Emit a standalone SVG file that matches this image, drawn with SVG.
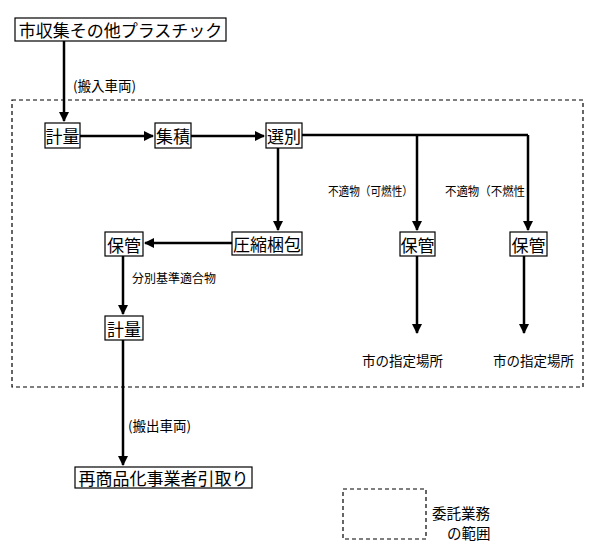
<svg xmlns="http://www.w3.org/2000/svg" width="600" height="550" viewBox="0 0 600 550">
<defs>
<marker id="ah" markerWidth="10" markerHeight="10" refX="9" refY="5" orient="auto" markerUnits="userSpaceOnUse">
<path d="M0,0 L10,5 L0,10 Z" fill="#000"/>
</marker>
<style>
text{font-family:"Noto Sans CJK JP","Noto Sans",sans-serif;fill:#000}
.box{fill:#fff;stroke:#000;stroke-width:1.2}
.lbl{font-size:17px;text-anchor:middle;dominant-baseline:central}
.sm{font-size:12px;dominant-baseline:central}
.md{font-size:13.5px;dominant-baseline:central}
.lg{font-size:14.5px;dominant-baseline:central}
.edge{stroke:#000;stroke-width:2.5;fill:none}
.arr{marker-end:url(#ah)}
.dash{fill:none;stroke:#000;stroke-width:1.2;stroke-dasharray:4,3}
</style>
</defs>
<rect width="600" height="550" fill="#fff"/>
<rect class="dash" x="12" y="100" width="571" height="287"/>
<g id="connectors">
<path class="edge arr" d="M64,40 V121"/>
<path class="edge arr" d="M80,136 H153"/>
<path class="edge arr" d="M191,136 H264"/>
<path class="edge" d="M302,135 H528"/>
<path class="edge arr" d="M417,135 V230"/>
<path class="edge arr" d="M528,135 V230"/>
<path class="edge arr" d="M278,148 V230"/>
<path class="edge arr" d="M232,243 H145"/>
<path class="edge arr" d="M123,256 V314"/>
<path class="edge arr" d="M123,340 V465"/>
<path class="edge arr" d="M417,256 V333"/>
<path class="edge arr" d="M524,256 V333"/>
</g>
<g id="n-top"><rect class="box" x="15" y="18" width="211" height="23"/><text class="lbl" x="120.5" y="29.5">市収集その他プラスチック</text></g>
<g id="n-keiryo1"><rect class="box" x="45" y="123" width="35" height="25"/><text class="lbl" x="62.5" y="135.5">計量</text></g>
<g id="n-shuseki"><rect class="box" x="155" y="123" width="36" height="25"/><text class="lbl" x="173" y="135.5">集積</text></g>
<g id="n-senbetsu"><rect class="box" x="266" y="123" width="36" height="25"/><text class="lbl" x="284" y="135.5">選別</text></g>
<g id="n-asshuku"><rect class="box" x="232" y="232" width="70" height="23"/><text class="lbl" x="267" y="243.5">圧縮梱包</text></g>
<g id="n-hokan1"><rect class="box" x="105" y="232" width="38" height="24"/><text class="lbl" x="124" y="244">保管</text></g>
<g id="n-hokan2"><rect class="box" x="400" y="232" width="35" height="24"/><text class="lbl" x="417.5" y="244">保管</text></g>
<g id="n-hokan3"><rect class="box" x="510" y="232" width="37" height="24"/><text class="lbl" x="528.5" y="244">保管</text></g>
<g id="n-keiryo2"><rect class="box" x="105" y="316" width="38" height="24"/><text class="lbl" x="124" y="328">計量</text></g>
<g id="n-saishohin"><rect class="box" x="75" y="467" width="177" height="21"/><text class="lbl" x="163.5" y="477.5">再商品化事業者引取り</text></g>
<g id="n-shitei1"><text class="md" x="362" y="360">市の指定場所</text></g>
<g id="n-shitei2"><text class="md" x="493" y="360">市の指定場所</text></g>
<g id="labels">
<text class="md" x="73" y="85">(搬入車両)</text>
<text class="sm" x="328" y="190" textLength="85" lengthAdjust="spacingAndGlyphs">不適物（可燃性）</text>
<text class="sm" x="445" y="190" textLength="80" lengthAdjust="spacingAndGlyphs">不適物（不燃性</text>
<text class="sm" x="132" y="277">分別基準適合物</text>
<text class="md" x="128" y="425">(搬出車両)</text>
</g>
<g id="legend">
<rect class="dash" x="343" y="489" width="83" height="50"/>
<text class="lg" x="432" y="512">委託業務</text>
<text class="lg" x="447" y="532">の範囲</text>
</g>
</svg>
